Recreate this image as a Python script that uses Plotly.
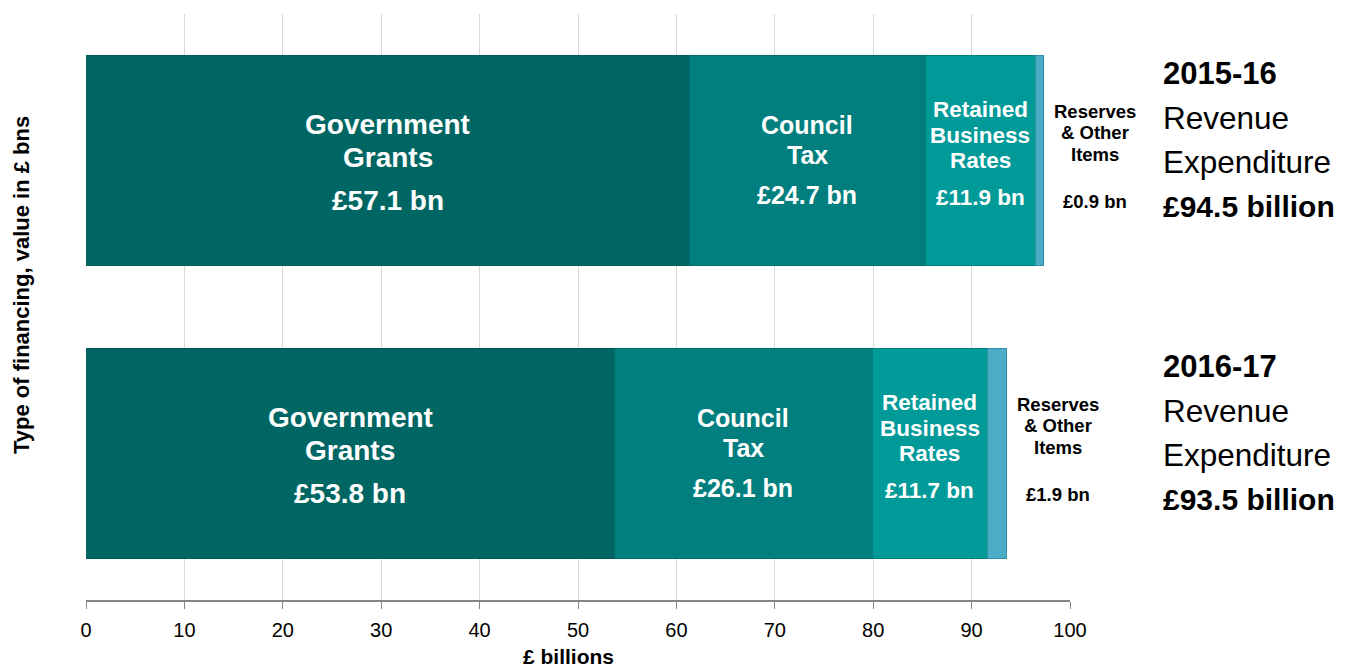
import plotly.graph_objects as go

years = ["2015-16", "2016-17"]
# bar lengths as drawn (£ bn)
gov = [61.3, 53.7]
council = [24.0, 26.2]
retained = [11.2, 11.7]
reserves = [0.8, 1.9]
# printed value labels
gov_lbl = ["£57.1 bn", "£53.8 bn"]
council_lbl = ["£24.7 bn", "£26.1 bn"]
retained_lbl = ["£11.9 bn", "£11.7 bn"]
reserves_lbl = ["£0.9 bn", "£1.9 bn"]
totals_lbl = ["£94.5 billion", "£93.5 billion"]
x_ticks = [0, 10, 20, 30, 40, 50, 60, 70, 80, 90, 100]

FONT = "Arial, Liberation Sans, sans-serif"
series = [
    ("Government Grants", gov, "#006663", "#005c59"),
    ("Council Tax", council, "#007f7e", "#006e6c"),
    ("Retained Business Rates", retained, "#009a99", "#007e7c"),
    ("Reserves & Other Items", reserves, "#4bacc6", "#2f8fa8"),
]

fig = go.Figure()
for name, vals, col, lcol in series:
    fig.add_trace(go.Bar(
        y=years, x=vals, name=name, orientation="h",
        marker=dict(color=col, line=dict(color=lcol, width=1)),
        hoverinfo="x+name",
    ))

ann = []
def lines(x, y, texts, shifts, size, color="white", bold=True, xshift=0, xanchor="center", xref="x"):
    for t, s in zip(texts, shifts):
        txt = f"<b>{t}</b>" if bold else t
        ann.append(dict(x=x, y=y, xref=xref, yref="y", text=txt, showarrow=False,
                        xanchor=xanchor, yanchor="middle", xshift=xshift, yshift=-s,
                        font=dict(family=FONT, size=size, color=color)))

for i, yr in enumerate(years):
    b0 = 0
    b1 = gov[i]
    b2 = b1 + council[i]
    b3 = b2 + retained[i]
    b4 = b3 + reserves[i]
    lines((b0 + b1) / 2, yr, ["Government", "Grants", gov_lbl[i]], [-36, -3, 40], 28)
    lines((b1 + b2) / 2, yr, ["Council", "Tax", council_lbl[i]], [-36, -6, 34], 25)
    lines((b2 + b3) / 2, yr, ["Retained", "Business", "Rates", retained_lbl[i]], [-51, -25, 0, 37], 22.5)
    lines(b4, yr, ["Reserves", "& Other", "Items", reserves_lbl[i]], [-49, -28, -6, 41], 18.5,
          color="black", xshift=52)
    for t, s, bd, sz in zip([yr, "Revenue", "Expenditure", totals_lbl[i]], [-87, -43, 1, 46],
                            [True, False, False, True], [31, 31.5, 31.5, 30]):
        lines(1, yr, [t], [s], sz, color="black", bold=bd, xshift=91, xanchor="left", xref="paper")

ann.append(dict(x=0, y=0.5, xref="paper", yref="paper", text="<b>Type of financing, value in £ bns</b>",
                textangle=-90, showarrow=False, xanchor="center", yanchor="middle",
                xshift=-65, yshift=22, font=dict(family=FONT, size=22, color="black")))
ann.append(dict(x=0.5, y=0, xref="paper", yref="paper", text="<b>£ billions</b>",
                showarrow=False, xanchor="center", yanchor="middle",
                xshift=-10, yshift=-56, font=dict(family=FONT, size=21, color="black")))

fig.update_layout(
    barmode="stack",
    bargap=0.283,
    width=1339, height=660,
    margin=dict(l=78, r=277, t=6, b=68),
    paper_bgcolor="white", plot_bgcolor="white",
    showlegend=False,
    annotations=ann,
    font=dict(family=FONT, color="black"),
)
fig.update_xaxes(
    range=[0, 100], tickvals=x_ticks, ticktext=[str(v) for v in x_ticks],
    showgrid=True, gridcolor="#d9d9d9", gridwidth=1,
    showline=True, linecolor="#868686", linewidth=1.5,
    ticks="outside", ticklen=7, tickcolor="#868686",
    ticklabelstandoff=4,
    tickfont=dict(family=FONT, size=20, color="black"),
    zeroline=False, fixedrange=True,
)
fig.update_yaxes(
    autorange="reversed", showticklabels=False, showgrid=False, showline=False,
    zeroline=False, ticks="", fixedrange=True,
)
fig.write_html("out.html")
